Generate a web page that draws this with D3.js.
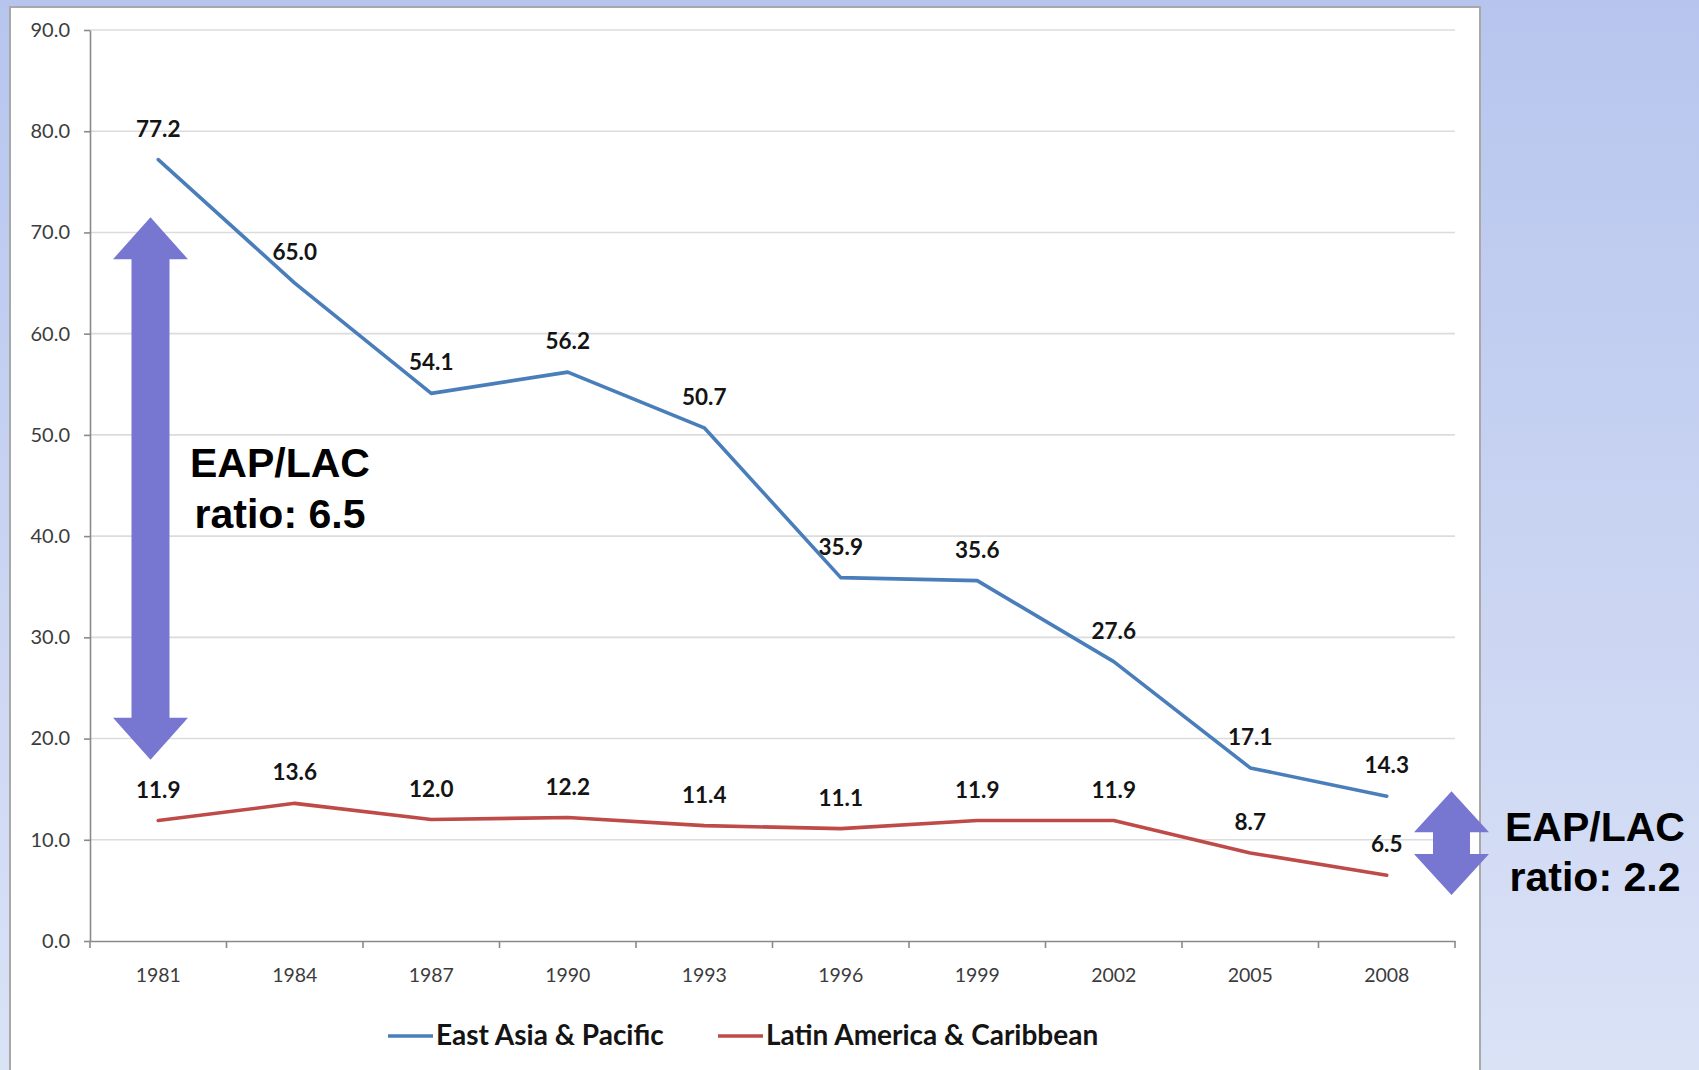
<!DOCTYPE html>
<html>
<head>
<meta charset="utf-8">
<script src="https://cdn.jsdelivr.net/npm/d3@7"></script>
<style>
  html, body { margin: 0; padding: 0; background: #c7d2f1; }
  svg { display: block; }
</style>
</head>
<body>
<svg id="chart" width="1699" height="1070"></svg>
<script>
// Poverty headcount by region, survey years
const years = ["1981", "1984", "1987", "1990", "1993", "1996", "1999", "2002", "2005", "2008"];
const eapValues = [77.2, 65.0, 54.1, 56.2, 50.7, 35.9, 35.6, 27.6, 17.1, 14.3];
const lacValues = [11.9, 13.6, 12.0, 12.2, 11.4, 11.1, 11.9, 11.9, 8.7, 6.5];
const yTicks = [0, 10, 20, 30, 40, 50, 60, 70, 80, 90];
const seriesNames = ["East Asia & Pacific", "Latin America & Caribbean"];
const ratioLabels = ["ratio: 6.5", "ratio: 2.2"];

const W = 1699, H = 1070;
const svg = d3.select("#chart");

// Slide background gradient
const defs = svg.append("defs");
const grad = defs.append("linearGradient").attr("id", "bg").attr("x1", 0).attr("y1", 0).attr("x2", 0).attr("y2", 1);
grad.append("stop").attr("offset", "0%").attr("stop-color", "#b7c5ee");
grad.append("stop").attr("offset", "100%").attr("stop-color", "#dae2f6");
svg.append("rect").attr("width", W).attr("height", H).attr("fill", "url(#bg)");

// White chart panel
svg.append("rect")
  .attr("x", 10).attr("y", 7).attr("width", 1470).attr("height", H + 20)
  .attr("fill", "#ffffff").attr("stroke", "#a8a8a8").attr("stroke-width", 2);

const x = d3.scaleBand().domain(years).range([90, 1455]);
const y = d3.scaleLinear().domain([0, 90]).range([941, 30]);
const cx = d => x(d) + x.bandwidth() / 2;

// Horizontal gridlines
svg.append("g").selectAll("line").data(yTicks.slice(1)).join("line")
  .attr("x1", 90).attr("x2", 1455)
  .attr("y1", d => y(d)).attr("y2", d => y(d))
  .attr("stroke", "#dcdcdc").attr("stroke-width", 1.6);

const tickFont = "Lato, 'Open Sans', sans-serif";

// Y axis
const yAxis = svg.append("g").attr("transform", "translate(90,0)")
  .call(d3.axisLeft(y).tickValues(yTicks).tickFormat(d3.format(".1f")).tickSize(6).tickSizeOuter(0).tickPadding(14));
yAxis.selectAll("path, line").attr("stroke", "#8a8a8a").attr("stroke-width", 1.6);
yAxis.selectAll("text").attr("font-family", tickFont).attr("font-size", 20).attr("fill", "#3c3c3c");

// X axis with labels centred in each band
const xAxis = svg.append("g").attr("transform", "translate(0,941)")
  .call(d3.axisBottom(x).tickSize(0).tickPadding(27));
xAxis.select("path").attr("stroke", "#8a8a8a").attr("stroke-width", 1.6);
xAxis.selectAll("text").attr("font-family", tickFont).attr("font-size", 19.5).attr("fill", "#3c3c3c");

// Tick marks on band boundaries
const boundaries = years.map(d => x(d)).concat([x.range()[1]]);
svg.append("g").selectAll("line").data(boundaries).join("line")
  .attr("x1", d => d).attr("x2", d => d)
  .attr("y1", 941).attr("y2", 948)
  .attr("stroke", "#8a8a8a").attr("stroke-width", 1.6);

// Series lines
const series = [
  { name: seriesNames[0], values: eapValues, color: "#4a7ebb" },
  { name: seriesNames[1], values: lacValues, color: "#be4b48" }
];
const line = d3.line().x((d, i) => cx(years[i])).y(d => y(d));

series.forEach(s => {
  svg.append("path").datum(s.values)
    .attr("d", line).attr("fill", "none")
    .attr("stroke", s.color).attr("stroke-width", 3.6)
    .attr("stroke-linejoin", "round").attr("stroke-linecap", "round");
});

// Value labels above each point
series.forEach(s => {
  svg.append("g").selectAll("text").data(s.values).join("text")
    .attr("x", (d, i) => cx(years[i]))
    .attr("y", d => y(d) - 23)
    .attr("text-anchor", "middle")
    .attr("font-family", tickFont).attr("font-weight", 700).attr("font-size", 22.5)
    .attr("fill", "#141414")
    .text(d => d.toFixed(1));
});

// Legend
const legendItems = [
  { x: 388, s: series[0] },
  { x: 718, s: series[1] }
];
legendItems.forEach(l => {
  svg.append("line").attr("x1", l.x).attr("x2", l.x + 45).attr("y1", 1036).attr("y2", 1036)
    .attr("stroke", l.s.color).attr("stroke-width", 3.6);
  svg.append("text").attr("x", l.x + 48).attr("y", 1045)
    .attr("font-family", tickFont).attr("font-weight", 700).attr("font-size", 28)
    .attr("fill", "#141414").text(l.s.name);
});

// Double-headed arrows showing the gap between the two regions
function doubleArrow(cxp, top, bottom, headW, shaftW, headH) {
  const p = d3.path();
  p.moveTo(cxp, top);
  p.lineTo(cxp + headW / 2, top + headH);
  p.lineTo(cxp + shaftW / 2, top + headH);
  p.lineTo(cxp + shaftW / 2, bottom - headH);
  p.lineTo(cxp + headW / 2, bottom - headH);
  p.lineTo(cxp, bottom);
  p.lineTo(cxp - headW / 2, bottom - headH);
  p.lineTo(cxp - shaftW / 2, bottom - headH);
  p.lineTo(cxp - shaftW / 2, top + headH);
  p.lineTo(cxp - headW / 2, top + headH);
  p.closePath();
  return p.toString();
}
const arrowColor = "#7777d2";
svg.append("path").attr("d", doubleArrow(150.5, y(71.5), y(17.9), 75, 38, 42)).attr("fill", arrowColor);
svg.append("path").attr("d", doubleArrow(1451.5, y(14.8), y(4.55), 75, 37, 41)).attr("fill", arrowColor);

// Ratio annotations
const annoFont = "'Liberation Sans', Arial, sans-serif";
[
  { x: 280, y1: 477, y2: 528, r: ratioLabels[0] },
  { x: 1595, y1: 841, y2: 891, r: ratioLabels[1] }
].forEach(a => {
  const t = svg.append("text").attr("text-anchor", "middle")
    .attr("font-family", annoFont).attr("font-weight", 700).attr("font-size", 41).attr("fill", "#000");
  t.append("tspan").attr("x", a.x).attr("y", a.y1).text("EAP/LAC");
  t.append("tspan").attr("x", a.x).attr("y", a.y2).text(a.r);
});
</script>
</body>
</html>
